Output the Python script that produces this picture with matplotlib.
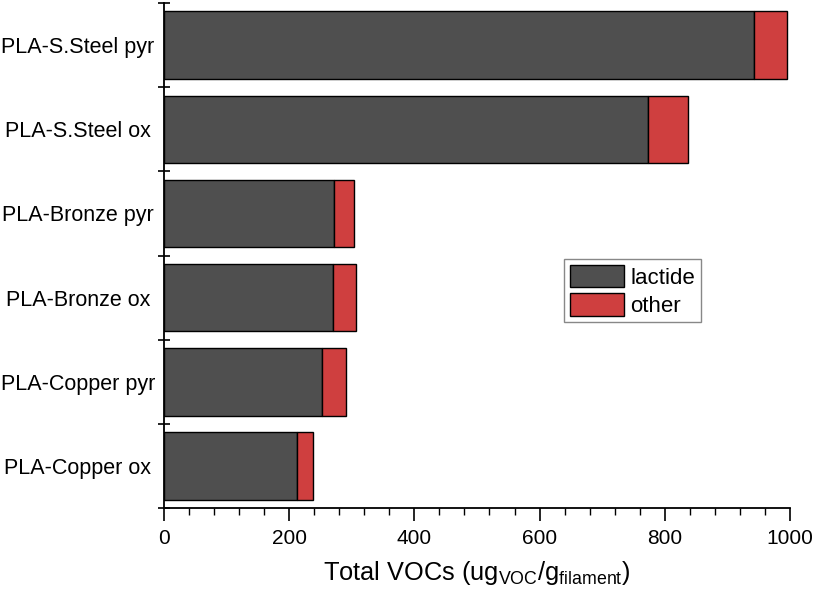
import matplotlib
matplotlib.use("Agg")
import matplotlib.pyplot as plt
from matplotlib.ticker import MultipleLocator, FixedLocator
import numpy as np

plt.rcParams['font.family'] = ['Liberation Sans', 'DejaVu Sans']

categories = ["PLA-S.Steel pyr", "PLA-S.Steel ox", "PLA-Bronze pyr",
              "PLA-Bronze ox", "PLA-Copper pyr", "PLA-Copper ox"]
lactide = [942, 774, 271, 270, 253, 212]
other = [54, 63, 32, 36, 37, 26]

dark = "#4f4f4f"
red = "#cf3f3f"

fig = plt.figure(figsize=(8.16, 5.95), dpi=100)
ax = fig.add_axes([0.201, 0.146, 0.767, 0.849])

y = np.arange(len(categories))[::-1]
ax.barh(y, lactide, height=0.8, color=dark, edgecolor="black", linewidth=1.0, label="lactide")
ax.barh(y, other, left=lactide, height=0.8, color=red, edgecolor="black", linewidth=1.0, label="other")

ax.set_xlim(0, 1000)
ax.set_ylim(-0.5, len(categories) - 0.5)
ax.set_yticks(y)
ax.set_yticklabels(categories, fontsize=15.5)
for lab in ax.get_yticklabels():
    lab.set_horizontalalignment('center')
ax.yaxis.set_minor_locator(FixedLocator(np.arange(-0.5, len(categories), 1.0)))
ax.tick_params(axis='y', which='major', length=0, pad=62)
ax.tick_params(axis='y', which='minor', direction='inout', length=8, width=1.2)

ax.xaxis.set_major_locator(MultipleLocator(200))
ax.xaxis.set_minor_locator(MultipleLocator(40))
ax.tick_params(axis='x', which='major', direction='out', length=9, width=1.2, labelsize=15, pad=6)
ax.tick_params(axis='x', which='minor', direction='out', length=5, width=1.0)

for s in ['top', 'right']:
    ax.spines[s].set_visible(False)
for s in ['left', 'bottom']:
    ax.spines[s].set_linewidth(1.3)

ax.set_xlabel(r"Total VOCs (ug$_{\mathregular{VOC}}$/g$_{\mathregular{filament}}$)", fontsize=18.3, labelpad=8)

leg = ax.legend(loc='upper left', bbox_to_anchor=(0.639, 0.493), borderaxespad=0,
                fontsize=16, handlelength=2.45, handleheight=1.2, handletextpad=0.3,
                labelspacing=0.2, borderpad=0.25, fancybox=False, framealpha=1)
leg.get_frame().set_edgecolor("#888888")
leg.get_frame().set_linewidth(1.0)

fig.savefig("out.png", dpi=100)
